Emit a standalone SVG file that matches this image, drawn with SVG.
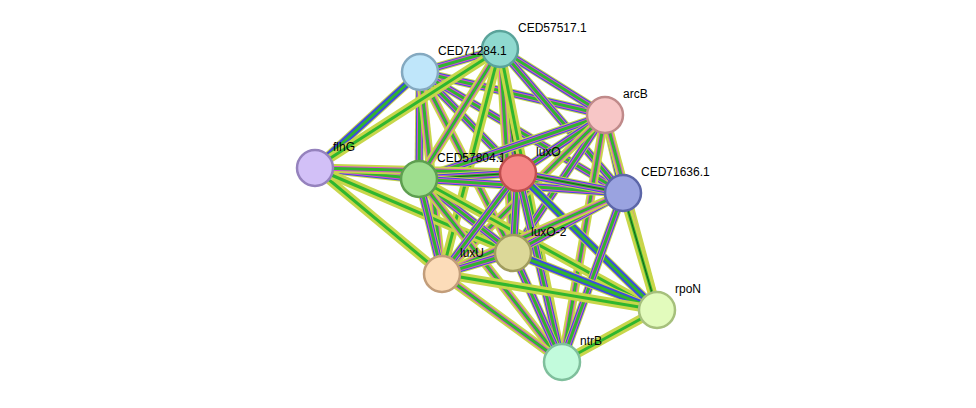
<svg xmlns="http://www.w3.org/2000/svg" xmlns:xlink="http://www.w3.org/1999/xlink" width="976" height="408" viewBox="0 0 976 408">
<style>
.n{stroke-width:2.5}
.t{font-family:"Liberation Sans",Arial,sans-serif;font-size:12px;fill:#000}
.a{fill:none;stroke:#c8d64a;stroke-width:9}
.b{fill:none;stroke:#3f48e0;stroke-width:7}
.c{fill:none;stroke:#d84fd0;stroke-width:5}
.d{fill:none;stroke:#2fb62f;stroke-width:3}
.e{fill:none;stroke:#1a5a1a;stroke-width:1}
.w{fill:none;stroke:#fff;stroke-width:1}
</style>
<defs>
<path id="p1" d="M420 72L500 49"/><path id="p2" d="M420 72L605 115"/><path id="p3" d="M420 72L315 168"/><path id="p4" d="M420 72L419 179"/><path id="p5" d="M420 72L518 173"/><path id="p6" d="M420 72L623 193"/><path id="p7" d="M420 72L513 253"/><path id="p8" d="M420 72L442 274"/>
<path id="p9" d="M500 49L605 115"/><path id="p10" d="M500 49L315 168"/><path id="p11" d="M500 49L419 179"/><path id="p12" d="M500 49L518 173"/><path id="p13" d="M500 49L623 193"/><path id="p14" d="M500 49L513 253"/><path id="p15" d="M500 49L442 274"/><path id="p16" d="M500 49L562 362"/>
<path id="p17" d="M605 115L419 179"/><path id="p18" d="M605 115L518 173"/><path id="p19" d="M605 115L623 193"/><path id="p20" d="M605 115L513 253"/><path id="p21" d="M605 115L442 274"/><path id="p22" d="M605 115L657 310"/><path id="p23" d="M605 115L562 362"/>
<path id="p24" d="M315 168L419 179"/><path id="p25" d="M315 168L518 173"/><path id="p26" d="M315 168L442 274"/><path id="p27" d="M315 168L513 253"/>
<path id="p28" d="M419 179L518 173"/><path id="p29" d="M419 179L623 193"/><path id="p30" d="M419 179L513 253"/><path id="p31" d="M419 179L442 274"/><path id="p32" d="M419 179L562 362"/><path id="p33" d="M419 179L657 310"/>
<path id="p34" d="M518 173L623 193"/><path id="p35" d="M518 173L513 253"/><path id="p36" d="M518 173L442 274"/><path id="p37" d="M518 173L562 362"/><path id="p38" d="M518 173L657 310"/>
<path id="p39" d="M623 193L513 253"/><path id="p40" d="M623 193L442 274"/><path id="p41" d="M623 193L562 362"/><path id="p42" d="M623 193L657 310"/>
<path id="p43" d="M513 253L442 274"/><path id="p44" d="M513 253L562 362"/><path id="p45" d="M513 253L657 310"/><path id="p46" d="M442 274L562 362"/><path id="p47" d="M442 274L657 310"/><path id="p48" d="M562 362L657 310"/>
</defs>
<rect width="976" height="408" fill="#fff"/>
<g id="connectors">
<use href="#p1" class="a"/><use href="#p1" class="b"/><use href="#p1" class="c"/><use href="#p1" class="d"/>
<use href="#p2" class="a"/><use href="#p2" class="b"/><use href="#p2" class="c"/><use href="#p2" class="d"/>
<use href="#p3" class="a"/><use href="#p3" class="b"/><use href="#p3" class="d"/>
<use href="#p4" class="a"/><use href="#p4" class="b"/><use href="#p4" class="c"/><use href="#p4" class="d"/>
<use href="#p5" class="a"/><use href="#p5" class="b"/><use href="#p5" class="c"/><use href="#p5" class="d"/>
<use href="#p6" class="a"/><use href="#p6" class="b"/><use href="#p6" class="c"/><use href="#p6" class="d"/>
<use href="#p7" class="a"/><use href="#p7" class="c"/><use href="#p7" class="d"/>
<use href="#p8" class="a"/><use href="#p8" class="c"/><use href="#p8" class="d"/>
<use href="#p9" class="a"/><use href="#p9" class="b"/><use href="#p9" class="c"/><use href="#p9" class="d"/>
<use href="#p10" class="a"/><use href="#p10" class="d"/>
<use href="#p11" class="a"/><use href="#p11" class="c"/><use href="#p11" class="d"/>
<use href="#p12" class="a"/><use href="#p12" class="b"/><use href="#p12" class="c"/><use href="#p12" class="d"/><use href="#p12" class="e"/>
<use href="#p13" class="a"/><use href="#p13" class="b"/><use href="#p13" class="c"/><use href="#p13" class="d"/>
<use href="#p14" class="a"/><use href="#p14" class="c"/><use href="#p14" class="d"/>
<use href="#p15" class="a"/><use href="#p15" class="d"/>
<use href="#p16" class="a"/><use href="#p16" class="d"/>
<use href="#p17" class="a"/><use href="#p17" class="b"/><use href="#p17" class="c"/><use href="#p17" class="d"/>
<use href="#p18" class="a"/><use href="#p18" class="b"/><use href="#p18" class="c"/><use href="#p18" class="d"/>
<use href="#p19" class="a"/><use href="#p19" class="b"/><use href="#p19" class="c"/><use href="#p19" class="d"/><use href="#p19" class="e"/>
<use href="#p20" class="a"/><use href="#p20" class="b"/><use href="#p20" class="c"/><use href="#p20" class="d"/>
<use href="#p21" class="a"/><use href="#p21" class="c"/><use href="#p21" class="d"/>
<use href="#p22" class="a"/><use href="#p22" class="c"/><use href="#p22" class="d"/>
<use href="#p23" class="a"/><use href="#p23" class="c"/><use href="#p23" class="d"/>
<use href="#p24" class="a"/><use href="#p24" class="b"/><use href="#p24" class="c"/><use href="#p24" class="d"/>
<use href="#p25" class="a"/><use href="#p25" class="c"/><use href="#p25" class="d"/>
<use href="#p26" class="a"/><use href="#p26" class="d"/>
<use href="#p27" class="a"/><use href="#p27" class="d"/>
<use href="#p28" class="a"/><use href="#p28" class="b"/><use href="#p28" class="c"/><use href="#p28" class="d"/><use href="#p28" class="e"/>
<use href="#p29" class="a"/><use href="#p29" class="b"/><use href="#p29" class="c"/><use href="#p29" class="d"/>
<use href="#p30" class="a"/><use href="#p30" class="b"/><use href="#p30" class="c"/><use href="#p30" class="d"/>
<use href="#p31" class="a"/><use href="#p31" class="b"/><use href="#p31" class="c"/><use href="#p31" class="d"/>
<use href="#p32" class="a"/><use href="#p32" class="c"/><use href="#p32" class="d"/>
<use href="#p33" class="a"/><use href="#p33" class="d"/>
<use href="#p34" class="a"/><use href="#p34" class="b"/><use href="#p34" class="c"/><use href="#p34" class="d"/><use href="#p34" class="e"/>
<use href="#p35" class="a"/><use href="#p35" class="b"/><use href="#p35" class="c"/><use href="#p35" class="d"/>
<use href="#p36" class="a"/><use href="#p36" class="b"/><use href="#p36" class="c"/><use href="#p36" class="d"/>
<use href="#p37" class="a"/><use href="#p37" class="b"/><use href="#p37" class="c"/><use href="#p37" class="d"/>
<use href="#p38" class="a"/><use href="#p38" class="b"/><use href="#p38" class="d"/>
<use href="#p39" class="a"/><use href="#p39" class="b"/><use href="#p39" class="c"/><use href="#p39" class="d"/>
<use href="#p40" class="a"/><use href="#p40" class="c"/><use href="#p40" class="d"/>
<use href="#p41" class="a"/><use href="#p41" class="b"/><use href="#p41" class="c"/><use href="#p41" class="d"/>
<use href="#p42" class="a"/><use href="#p42" class="d"/><use href="#p42" class="e"/>
<use href="#p43" class="a"/><use href="#p43" class="b"/><use href="#p43" class="c"/><use href="#p43" class="d"/>
<use href="#p44" class="a"/><use href="#p44" class="b"/><use href="#p44" class="c"/><use href="#p44" class="d"/>
<use href="#p45" class="a"/><use href="#p45" class="b"/><use href="#p45" class="d"/>
<use href="#p46" class="a"/><use href="#p46" class="c"/><use href="#p46" class="d"/>
<use href="#p47" class="a"/><use href="#p47" class="d"/>
<use href="#p48" class="a"/><use href="#p48" class="d"/>
</g>
<g id="CED57517.1"><circle class="n" cx="500" cy="49" r="18" fill="#8fd9cf" stroke="#5aa39a"/><text class="t" x="518" y="32">CED57517.1</text></g>
<g id="CED71284.1"><circle class="n" cx="420" cy="72" r="18" fill="#bfe6fa" stroke="#84a9c0"/><text class="t" x="438" y="55">CED71284.1</text></g>
<g id="arcB"><circle class="n" cx="605" cy="115" r="18" fill="#f7c6c6" stroke="#c08a8a"/><text class="t" x="623" y="98">arcB</text></g>
<g id="flhG"><circle class="n" cx="315" cy="168" r="18" fill="#d2c0f7" stroke="#9582bd"/><text class="t" x="333" y="151">flhG</text></g>
<g id="CED57804.1"><circle class="n" cx="419" cy="179" r="18" fill="#9ede8e" stroke="#5e9f50"/><text class="t" x="437" y="162">CED57804.1</text></g>
<g id="luxO"><circle class="n" cx="518" cy="173" r="18" fill="#f58585" stroke="#c04f4f"/><text class="t" x="536" y="156">luxO</text></g>
<g id="CED71636.1"><circle class="n" cx="623" cy="193" r="18" fill="#9aa3e0" stroke="#5c66a8"/><text class="t" x="641" y="176">CED71636.1</text></g>
<g id="luxO-2"><circle class="n" cx="513" cy="253" r="18" fill="#dcd898" stroke="#a19d5e"/><text class="t" x="531" y="236">luxO-2</text></g>
<g id="luxU"><circle class="n" cx="442" cy="274" r="18" fill="#fcdcb9" stroke="#c29d7a"/><text class="t" x="460" y="257">luxU</text></g>
<g id="rpoN"><circle class="n" cx="657" cy="310" r="18" fill="#e2fbbc" stroke="#a6c07c"/><text class="t" x="675" y="293">rpoN</text></g>
<g id="ntrB"><circle class="n" cx="562" cy="362" r="18" fill="#c2fbdc" stroke="#7fbf9c"/><text class="t" x="580" y="345">ntrB</text></g>
</svg>
